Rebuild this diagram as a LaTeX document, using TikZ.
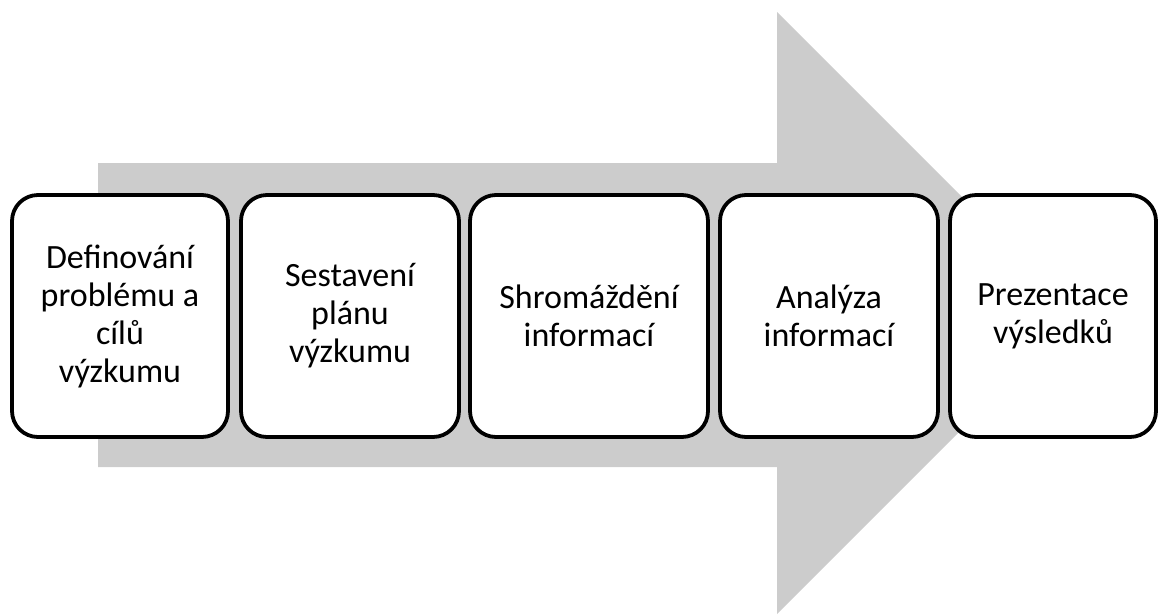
\documentclass[tikz,border=0pt]{standalone}
\usepackage{fontspec}
\setmainfont{Carlito}
\definecolor{arrowgray}{RGB}{204,204,204}
\begin{document}
\begin{tikzpicture}[x=1pt,y=-1pt,
  stepbox/.style={draw=black, line width=3.8pt, fill=white, rounded corners=26pt,
    minimum height=242pt, align=center, inner sep=0pt,
    font=\fontsize{34}{38}\selectfont}]
\useasboundingbox (0,0) rectangle (1158,614);
\clip (0,0) rectangle (1158,614);
\fill[arrowgray] (98,163) -- (777,163) -- (777,12) -- (1078,313) -- (777,614) -- (777,467) -- (98,467) -- cycle;
\node[stepbox, minimum width=216pt] (s1) at (120,316) {Definování\\problému a\\cílů\\výzkumu};
\node[stepbox, minimum width=218pt] (s2) at (350,316) {Sestavení\\plánu\\výzkumu};
\node[stepbox, minimum width=238pt] (s3) at (589,316) {Shromáždění\\informací};
\node[stepbox, minimum width=218pt] (s4) at (829,316) {Analýza\\informací};
\node[stepbox, minimum width=206pt] (s5) at (1053,316) {Prezentace\\výsledků};
\end{tikzpicture}
\end{document}
